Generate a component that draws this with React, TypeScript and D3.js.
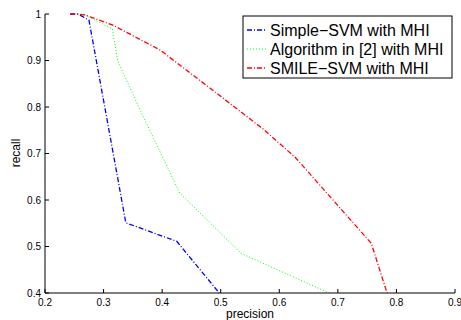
import React from "react";
import * as d3 from "d3";

const W = 461;
const H = 320;

const xTicks = [0.2, 0.3, 0.4, 0.5, 0.6, 0.7, 0.8, 0.9];
const yTicks = [0.4, 0.5, 0.6, 0.7, 0.8, 0.9, 1];

const simplePrecision = [0.243, 0.256, 0.275, 0.338, 0.425, 0.4975];
const simpleRecall = [1.0, 1.0, 0.987, 0.551, 0.511, 0.4];

const algPrecision = [0.25, 0.265, 0.315, 0.324, 0.36, 0.43, 0.535, 0.685];
const algRecall = [1.0, 1.0, 0.968, 0.9, 0.8, 0.615, 0.485, 0.4];

const smilePrecision = [0.243, 0.268, 0.316, 0.396, 0.5, 0.572, 0.627, 0.757, 0.784];
const smileRecall = [1.0, 0.998, 0.976, 0.923, 0.823, 0.753, 0.692, 0.507, 0.4];

const seriesNames = ["Simple\u2212SVM with MHI", "Algorithm in [2] with MHI", "SMILE\u2212SVM with MHI"];
const seriesColors = ["#0000ff", "#00ff00", "#ff0000"];
const seriesDash = ["5,2,1,2", "1,2", "5,2,1,2"];

export default function App() {
  const x = d3.scaleLinear().domain([0.2, 0.9]).range([45, 455]);
  const y = d3.scaleLinear().domain([0.4, 1]).range([293, 14]);
  const line = d3
    .line<[number, number]>()
    .x((d) => x(d[0]))
    .y((d) => y(d[1]));

  const series = [
    d3.zip(simplePrecision, simpleRecall) as [number, number][],
    d3.zip(algPrecision, algRecall) as [number, number][],
    d3.zip(smilePrecision, smileRecall) as [number, number][],
  ];

  const font = "'Liberation Sans', Arial, Helvetica, sans-serif";

  return (
    <svg
      width={W}
      height={H}
      style={{ position: "absolute", left: 0, top: 0, background: "#fff" }}
      fontFamily={font}
    >
      <rect x={0} y={0} width={W} height={H} fill="#fff" />
      {series.map((s, i) => (
        <path
          key={i}
          d={line(s) || ""}
          fill="none"
          stroke={seriesColors[i]}
          strokeWidth={i === 1 ? 1 : 1.3}
          strokeDasharray={seriesDash[i]}
        />
      ))}
      {/* axes */}
      <line x1={45} x2={45} y1={14} y2={293} stroke="#000" strokeWidth={1} />
      <line x1={45} x2={455} y1={293} y2={293} stroke="#000" strokeWidth={1} />
      {xTicks.map((t) => (
        <g key={"x" + t}>
          <line x1={x(t)} x2={x(t)} y1={293} y2={289} stroke="#000" />
          <text x={x(t)} y={306} fontSize={10} textAnchor="middle" fill="#000">
            {t === 1 ? "1" : t.toFixed(1)}
          </text>
        </g>
      ))}
      {yTicks.map((t) => (
        <g key={"y" + t}>
          <line x1={45} x2={49} y1={y(t)} y2={y(t)} stroke="#000" />
          <text x={41} y={y(t) + 3.5} fontSize={10} textAnchor="end" fill="#000">
            {t === 1 ? "1" : t.toFixed(1)}
          </text>
        </g>
      ))}
      <text x={250} y={318} fontSize={12} textAnchor="middle" fill="#000">
        precision
      </text>
      <text
        transform={`translate(20,${153}) rotate(-90)`}
        fontSize={12}
        textAnchor="middle"
        fill="#000"
      >
        recall
      </text>
      {/* legend */}
      <rect x={243} y={16} width={209} height={62} fill="#fff" stroke="#000" strokeWidth={1} />
      {seriesNames.map((n, i) => (
        <g key={n}>
          <line
            x1={247}
            x2={267}
            y1={30 + i * 19}
            y2={30 + i * 19}
            stroke={seriesColors[i]}
            strokeWidth={i === 1 ? 1 : 1.3}
            strokeDasharray={seriesDash[i]}
          />
          <text x={270} y={35.5 + i * 19} fontSize={16} fill="#000">
            {n}
          </text>
        </g>
      ))}
    </svg>
  );
}
